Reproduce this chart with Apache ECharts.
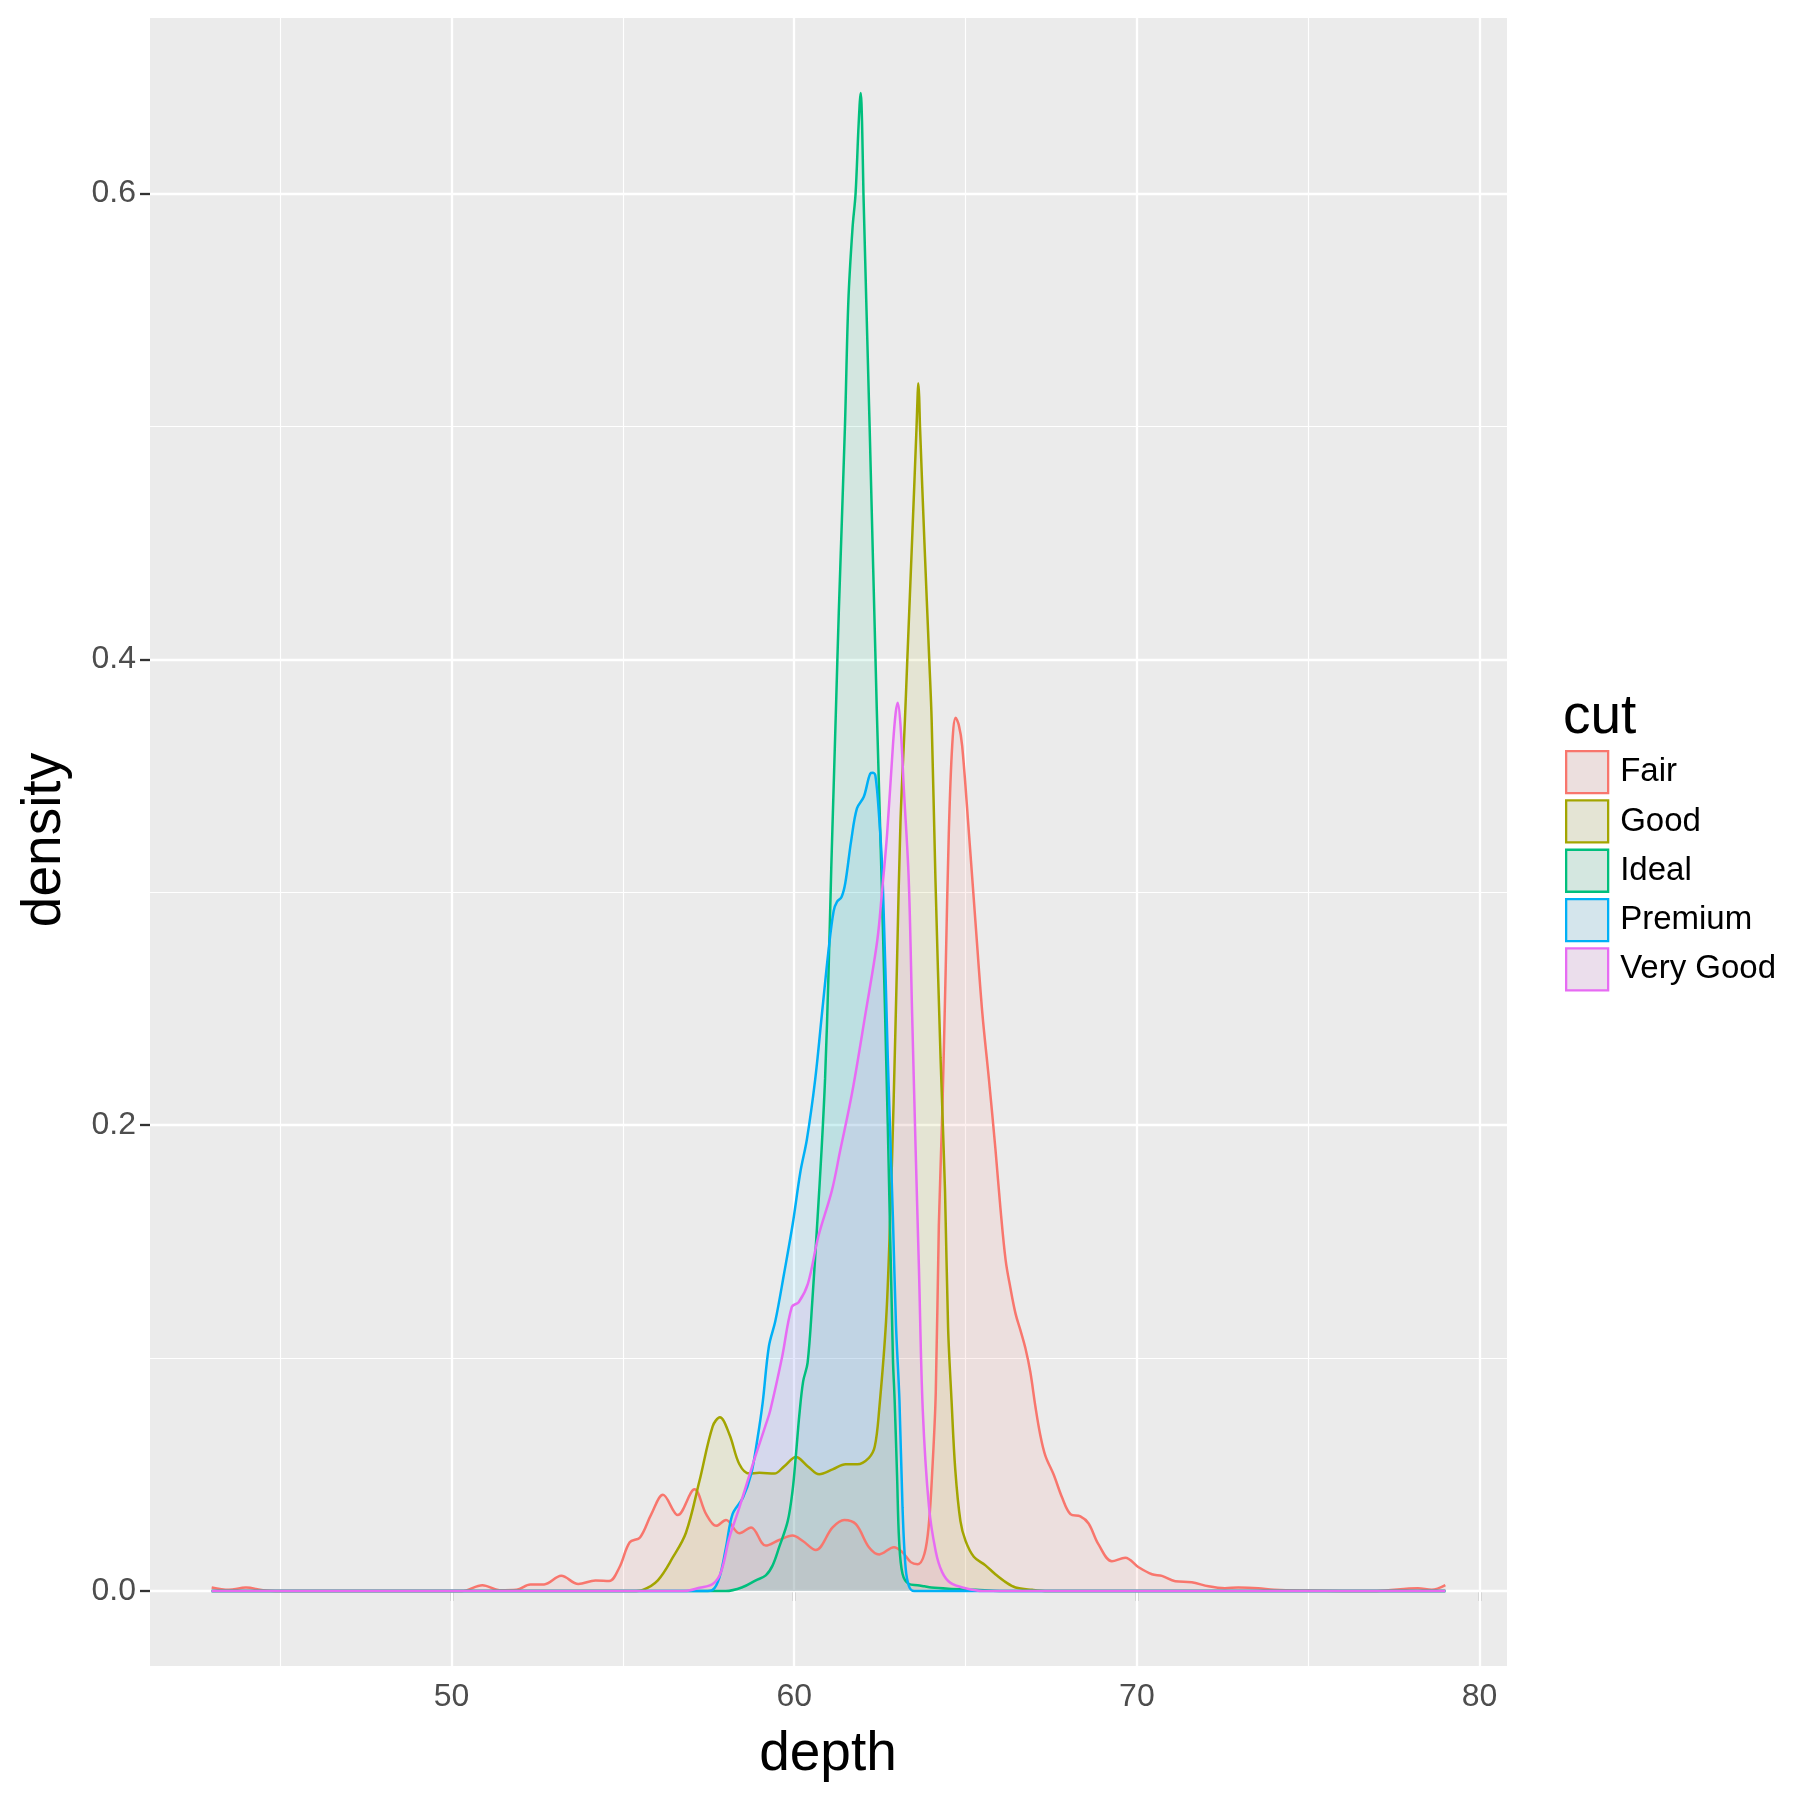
<!DOCTYPE html>
<html><head><meta charset="utf-8">
<script src="https://cdn.jsdelivr.net/npm/echarts@6/dist/echarts.min.js"></script>
<style>html,body{margin:0;padding:0;background:#fff}#c{width:1800px;height:1800px}</style>
</head><body><div id="c"></div>
<script>
const cuts = ['Fair', 'Good', 'Ideal', 'Premium', 'Very Good'];

const fairX = [43.0,43.5,44.0,44.5,45.0,50.3,50.9,51.4,51.9,52.3,52.7,53.2,53.7,54.2,54.6,54.9,55.2,55.5,55.83,56.17,56.6,57.09,57.43,57.72,58.01,58.4,58.74,59.17,59.56,59.95,60.24,60.63,61.12,61.46,61.8,62.18,62.48,62.91,63.16,63.4,63.6,63.8,63.93,64.03,64.13,64.22,64.32,64.42,64.51,64.61,64.71,64.8,64.9,65.1,65.29,65.49,65.68,65.87,66.02,66.17,66.31,66.46,66.6,66.75,66.89,67.04,67.18,67.33,67.57,67.82,68.06,68.35,68.59,68.88,69.27,69.66,70.05,70.44,70.73,71.12,71.6,72.09,72.57,72.96,73.54,74.0,75.0,77.0,78.2,78.6,79.0];
const fairY = [0.0015,0.0005,0.0015,0.0003,0,0,0.0025,0.0003,0.0005,0.0028,0.0028,0.0065,0.003,0.0045,0.0043,0.0102,0.0209,0.023,0.033,0.0413,0.0326,0.0437,0.033,0.028,0.0305,0.0248,0.0273,0.0195,0.0219,0.0238,0.0216,0.0176,0.0273,0.0305,0.0287,0.0188,0.0157,0.0188,0.0166,0.0124,0.0115,0.016,0.029,0.052,0.085,0.157,0.205,0.267,0.325,0.363,0.375,0.372,0.363,0.325,0.287,0.248,0.22,0.19,0.164,0.142,0.13,0.119,0.112,0.104,0.094,0.079,0.067,0.058,0.05,0.04,0.033,0.032,0.029,0.02,0.0128,0.0143,0.0102,0.0072,0.0065,0.0042,0.0038,0.002,0.0012,0.0015,0.0012,0.0005,0.0002,0,0.0012,0.0005,0.0025];

const goodX = [43.0,55.3,55.58,56.02,56.46,56.84,57.23,57.62,57.83,58.11,58.4,58.69,58.98,59.42,59.71,60.05,60.39,60.73,61.12,61.5,61.84,62.18,62.35,62.48,62.68,62.8,62.9,63.0,63.1,63.23,63.3,63.45,63.57,63.6,63.62,63.645,63.67,63.8,63.94,64.01,64.12,64.27,64.4,64.49,64.59,64.7,64.85,65.0,65.24,65.58,65.87,66.17,66.46,66.94,67.4,79.0];
const goodY = [0,0,0.0005,0.0046,0.0145,0.025,0.047,0.0707,0.0746,0.0672,0.0544,0.0504,0.0508,0.0504,0.0536,0.0575,0.0536,0.0501,0.0522,0.0544,0.0544,0.0572,0.062,0.078,0.116,0.16,0.21,0.27,0.33,0.374,0.4,0.455,0.5,0.513,0.5186,0.513,0.5,0.45,0.4,0.374,0.306,0.229,0.172,0.113,0.082,0.052,0.03,0.0215,0.0147,0.011,0.0072,0.0038,0.0015,0.0005,0,0];

const idealX = [43.0,58.0,58.5,58.88,59.17,59.37,59.56,59.81,59.95,60.05,60.15,60.26,60.39,60.53,60.68,60.8,60.9,61.0,61.08,61.15,61.22,61.3,61.48,61.58,61.7,61.79,61.88,61.94,61.98,62.02,62.2,62.41,62.56,62.73,62.88,62.93,63.0,63.06,63.16,63.35,63.6,63.8,64.0,64.5,65.3,66.0,79.0];
const idealY = [0,0,0.0017,0.0046,0.0067,0.011,0.0188,0.03,0.043,0.0586,0.0757,0.09,0.098,0.125,0.16,0.19,0.22,0.265,0.31,0.345,0.38,0.42,0.5,0.554,0.585,0.6,0.63,0.6432,0.63,0.6,0.5,0.378,0.3,0.2,0.1,0.082,0.05,0.022,0.0074,0.003,0.0025,0.002,0.0015,0.001,0.0005,0,0];

const premiumX = [43.0,57.4,57.62,57.82,58.01,58.2,58.5,58.74,58.93,59.08,59.26,59.45,59.7,59.96,60.18,60.37,60.61,60.81,61.0,61.15,61.25,61.38,61.49,61.66,61.83,62.03,62.22,62.3,62.37,62.47,62.58,62.73,62.88,62.97,63.07,63.16,63.25,63.35,63.5,79.0];
const premiumY = [0,0,0.0005,0.006,0.0188,0.033,0.04,0.05,0.0657,0.081,0.105,0.116,0.136,0.158,0.18,0.194,0.2195,0.248,0.275,0.292,0.296,0.298,0.304,0.322,0.336,0.341,0.351,0.3513,0.35,0.334,0.306,0.229,0.16,0.114,0.082,0.036,0.01,0.002,0,0];

const veryGoodX = [43.0,56.8,57.23,57.62,57.86,58.11,58.4,58.79,59.17,59.3,59.64,59.93,60.13,60.4,60.7,61.1,61.34,61.69,62.08,62.42,62.56,62.71,62.88,62.96,63.02,63.1,63.2,63.34,63.44,63.54,63.64,63.75,63.93,64.13,64.32,64.56,65.0,65.5,79.0];
const veryGoodY = [0,0,0.0014,0.003,0.008,0.023,0.0359,0.0544,0.0714,0.0775,0.1,0.122,0.124,0.132,0.152,0.172,0.189,0.214,0.248,0.279,0.3,0.325,0.363,0.377,0.3814,0.372,0.344,0.306,0.248,0.191,0.138,0.078,0.0365,0.017,0.008,0.0035,0.0012,0,0];

const xTicks = [50, 60, 70, 80];
const xMinor = [45, 55, 65, 75];
const yTicks = [0, 0.2, 0.4, 0.6];
const yMinor = [0.1, 0.3, 0.5];

const colors = ['#F8766D', '#A3A500', '#00BF7D', '#00B0F6', '#E76BF3'];
const keyFills = ['#ECDFDE', '#E4E4D4', '#D4E7E0', '#D4E5EC', '#EBDEEC'];
const seriesX = [fairX, goodX, idealX, premiumX, veryGoodX];
const seriesY = [fairY, goodY, idealY, premiumY, veryGoodY];

const FONT = '"Liberation Sans", Arial, Helvetica, sans-serif';

function zip(xs, ys) {
  const n = Math.min(xs.length, ys.length);
  const out = [];
  for (let i = 0; i < n; i++) out.push([xs[i], ys[i]]);
  return out;
}

const gridLines = []
  .concat(xMinor.map(v => ({ xAxis: v, lineStyle: { width: 1.15 } })))
  .concat(yMinor.map(v => ({ yAxis: v, lineStyle: { width: 1.15 } })))
  .concat(xTicks.map(v => ({ xAxis: v, lineStyle: { width: 2.3 } })))
  .concat(yTicks.map(v => ({ yAxis: v, lineStyle: { width: 2.3 } })));

const series = [{
  name: '_grid', type: 'line', data: [], z: 1, silent: true,
  markLine: {
    z: 1, silent: true, animation: false, symbol: ['none', 'none'],
    label: { show: false }, emphasis: { disabled: true },
    lineStyle: { color: '#FFFFFF', type: 'solid' },
    data: gridLines
  }
}].concat(cuts.map((c, i) => ({
  name: c, type: 'line', z: 3,
  data: zip(seriesX[i], seriesY[i]),
  showSymbol: false, symbol: 'none',
  smooth: 0.35,
  lineStyle: { color: colors[i], width: 2.5 },
  itemStyle: { color: colors[i] },
  areaStyle: { color: colors[i], opacity: 0.1 },
  emphasis: { disabled: true }
})));

const chart = echarts.init(document.getElementById('c'), null, { renderer: 'canvas' });
chart.setOption({
  animation: false,
  backgroundColor: '#FFFFFF',
  textStyle: { fontFamily: FONT },
  grid: { left: 150, right: 293, top: 18, bottom: 134, show: true, backgroundColor: '#EBEBEB', borderWidth: 0 },
  xAxis: {
    type: 'value', min: 41.2, max: 80.8,
    axisLine: { show: false },
    splitLine: { show: false },
    axisTick: { show: true, customValues: xTicks, length: 10, lineStyle: { color: '#333333', width: 2.3 } },
    axisLabel: { customValues: xTicks, color: '#4D4D4D', fontSize: 32, fontFamily: FONT, margin: 15,
      formatter: v => String(Math.round(v)) }
  },
  yAxis: {
    type: 'value', min: -0.0322, max: 0.6754,
    axisLine: { show: false },
    splitLine: { show: false },
    axisTick: { show: true, customValues: yTicks, length: 10, lineStyle: { color: '#333333', width: 2.3 } },
    axisLabel: { customValues: yTicks, color: '#4D4D4D', fontSize: 32, fontFamily: FONT, margin: 14,
      formatter: v => Number(v).toFixed(1) }
  },
  legend: {
    orient: 'vertical', left: 1560, top: 745,
    itemWidth: 42, itemHeight: 42, itemGap: 5,
    selectedMode: false,
    textStyle: { fontSize: 33, color: '#000000', fontFamily: FONT, padding: [0, 0, 0, 7], lineHeight: 36 },
    data: cuts.map((c, i) => ({
      name: c, icon: 'rect',
      itemStyle: { color: keyFills[i], borderColor: colors[i], borderWidth: 2.3 }
    }))
  },
  graphic: [
    { type: 'text', left: 1563, top: 690, silent: true,
      style: { text: 'cut', font: '55px ' + FONT, fill: '#000000' } },
    { type: 'text', x: 828, y: 1755, silent: true,
      style: { text: 'depth', font: '55px ' + FONT, fill: '#000000', align: 'center', verticalAlign: 'middle' } },
    { type: 'text', x: 45, y: 840, rotation: Math.PI / 2, silent: true,
      style: { text: 'density', font: '55px ' + FONT, fill: '#000000', align: 'center', verticalAlign: 'middle' } }
  ],
  series: series
});
</script>
</body></html>
